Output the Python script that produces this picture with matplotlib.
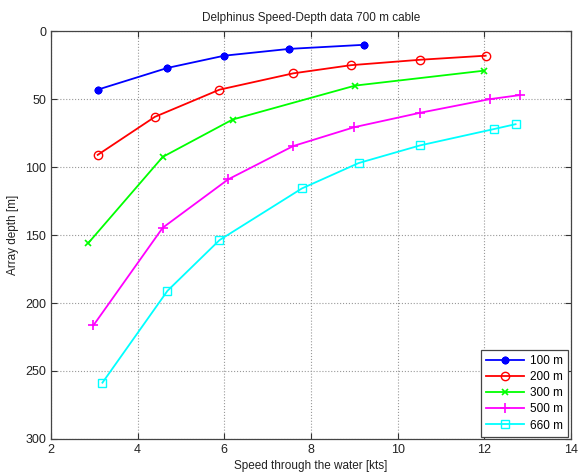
import matplotlib
matplotlib.use("Agg")
import matplotlib.pyplot as plt

# Cable length series: speed through the water [kts] vs array depth [m]
speed_100 = [3.08, 4.69, 6.0, 7.5, 9.22]
depth_100 = [43, 27, 18, 13, 10]

speed_200 = [3.08, 4.4, 5.89, 7.59, 8.92, 10.52, 12.03]
depth_200 = [91, 63, 43, 31, 25, 21, 18]

speed_300 = [2.86, 4.58, 6.19, 9.02, 12.0]
depth_300 = [156, 92.5, 65, 40, 29]

speed_500 = [2.98, 4.58, 6.09, 7.59, 9.0, 10.52, 12.12, 12.82]
depth_500 = [216.5, 144.6, 109, 84.5, 70.6, 60, 50, 47]

speed_660 = [3.19, 4.69, 5.89, 7.79, 9.1, 10.52, 12.22, 12.72]
depth_660 = [258.6, 191, 153.7, 115.7, 97, 84, 72, 68.4]

labels = ["100 m", "200 m", "300 m", "500 m", "660 m"]
x_ticks = [2, 4, 6, 8, 10, 12, 14]
y_ticks = [0, 50, 100, 150, 200, 250, 300]

plt.rcParams["font.family"] = ["Liberation Sans", "DejaVu Sans"]

fig = plt.figure(figsize=(5.78, 4.73), dpi=100)
ax = fig.add_axes([0.088, 0.072, 0.900, 0.862])

series = [
    (speed_100, depth_100, "#0000ff", (8, 2, 0), dict(markersize=5.5, markeredgewidth=1.7)),
    (speed_200, depth_200, "#ff0000", "o", dict(markersize=6, markerfacecolor="none")),
    (speed_300, depth_300, "#00ff00", "x", dict(markersize=5, markeredgewidth=1.2)),
    (speed_500, depth_500, "#ff00ff", "+", dict(markersize=7, markeredgewidth=1.2)),
    (speed_660, depth_660, "#00ffff", "s", dict(markersize=5.5, markerfacecolor="none")),
]
for (xs, ys, col, mk, kw), lab in zip(series, labels):
    ax.plot(xs, ys, color=col, marker=mk, linewidth=1.3,
            markeredgecolor=col, label=lab, **kw)

ax.set_xlim(2, 14)
ax.set_ylim(300, 0)
ax.set_xticks(x_ticks)
ax.set_yticks(y_ticks)
ax.tick_params(direction="in", labelsize=9, length=4, color="#333333",
               labelcolor="#222222", top=True, right=True)
ax.grid(True, linestyle=":", color="#999999", linewidth=0.8)
for sp in ax.spines.values():
    sp.set_color("#444444")
    sp.set_linewidth(0.9)

ax.set_title("Delphinus Speed-Depth data 700 m cable", fontsize=8.5, pad=7, color="#222222")
ax.set_xlabel("Speed through the water [kts]", fontsize=8.5, color="#222222", labelpad=3)
ax.set_ylabel("Array depth [m]", fontsize=8.5, color="#222222", labelpad=4)

leg = ax.legend(loc="lower right", fontsize=8.5, handlelength=3.2,
                fancybox=False, framealpha=1, edgecolor="#444444",
                borderpad=0.45, labelspacing=0.35, handletextpad=0.5,
                borderaxespad=0, bbox_to_anchor=(0.994, 0.005))
leg.get_frame().set_linewidth(0.9)

fig.savefig("out.png", dpi=100)
